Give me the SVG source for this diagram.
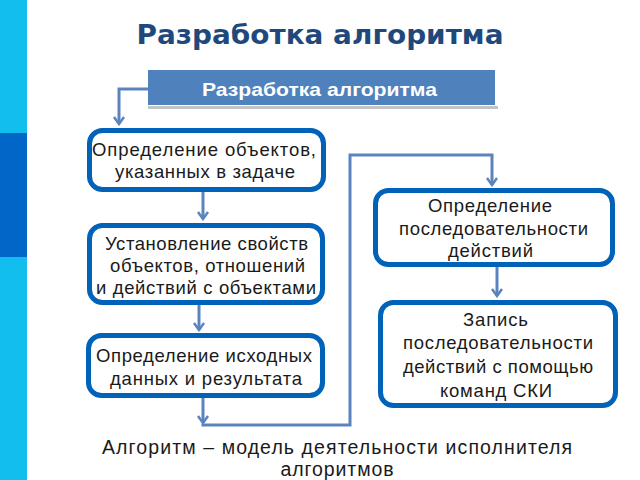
<svg xmlns="http://www.w3.org/2000/svg" width="640" height="480" viewBox="0 0 640 480">
<defs>
<style>
.box{fill:#ffffff;stroke:#0062B8;stroke-width:5}
.t{font-family:"Liberation Sans",Arial,sans-serif;font-size:18.5px;fill:#1a1a1a}
.c{fill:none;stroke:#5B84BF;stroke-width:3}
.bt{font-family:"Liberation Sans",Arial,sans-serif;font-size:19.5px;fill:#1a1a1a}
</style>
<marker id="ah" viewBox="-9 -7 11 14" markerWidth="11" markerHeight="14" refX="0" refY="0" orient="auto" markerUnits="userSpaceOnUse">
<path d="M-7,-5 L0,0 L-7,5" fill="none" stroke="#5B84BF" stroke-width="2.5"/>
</marker>
</defs>
<rect x="0" y="0" width="640" height="480" fill="#ffffff"/>
<g id="sidebar">
<rect x="0" y="0" width="27" height="480" fill="#12BEEE"/>
<rect x="0" y="133" width="27" height="124" fill="#0066C8"/>
</g>
<g id="title">
<text x="320" y="44" text-anchor="middle" textLength="367" lengthAdjust="spacingAndGlyphs" font-family="'DejaVu Sans',Verdana,sans-serif" font-weight="bold" font-size="26" fill="#1F497D">Разработка алгоритма</text>
</g>
<g id="header">
<rect x="148" y="106" width="350" height="3" fill="#C4C4C4"/>
<rect x="148" y="70" width="347" height="35" fill="#4F81BD"/>
<text x="319.5" y="96" text-anchor="middle" textLength="235" lengthAdjust="spacingAndGlyphs" font-family="'Liberation Sans',Arial,sans-serif" font-weight="bold" font-size="19" fill="#ffffff">Разработка алгоритма</text>
</g>
<g id="connectors">
<path class="c" d="M148,89 H119 V124" marker-end="url(#ah)"/>
<path class="c" d="M203,192 V219" marker-end="url(#ah)"/>
<path class="c" d="M199,305 V330" marker-end="url(#ah)"/>
<path class="c" d="M203,398 V423" marker-end="url(#ah)"/>
<path class="c" d="M201.5,425 H350 V155 H492 V185" marker-end="url(#ah)"/>
<path class="c" d="M497,267 V296" marker-end="url(#ah)"/>
</g>
<g id="n1">
<rect class="box" x="89.5" y="130.5" width="234" height="59" rx="13"/>
<text class="t" x="204" y="156" text-anchor="middle" textLength="224">Определение объектов,</text>
<text class="t" x="205" y="178" text-anchor="middle" textLength="180">указанных в задаче</text>
</g>
<g id="n2">
<rect class="box" x="89.5" y="225.5" width="233" height="77" rx="13"/>
<text class="t" x="206.5" y="250" text-anchor="middle" textLength="203">Установление свойств</text>
<text class="t" x="207.5" y="272" text-anchor="middle" textLength="195">объектов, отношений</text>
<text class="t" x="206" y="294" text-anchor="middle" textLength="220">и действий с объектами</text>
</g>
<g id="n3">
<rect class="box" x="88.5" y="335.5" width="234" height="60" rx="13"/>
<text class="t" x="204" y="362" text-anchor="middle" textLength="216">Определение исходных</text>
<text class="t" x="206" y="385" text-anchor="middle" textLength="192">данных и результата</text>
</g>
<g id="n4">
<rect class="box" x="375.5" y="190.5" width="237" height="74" rx="13"/>
<text class="t" x="490" y="212" text-anchor="middle" textLength="124">Определение</text>
<text class="t" x="493.5" y="235" text-anchor="middle" textLength="189">последовательности</text>
<text class="t" x="490.5" y="257" text-anchor="middle" textLength="85">действий</text>
</g>
<g id="n5">
<rect class="box" x="380.5" y="302.5" width="235" height="103" rx="13"/>
<text class="t" x="495.5" y="326" text-anchor="middle" textLength="65">Запись</text>
<text class="t" x="498" y="349" text-anchor="middle" textLength="190">последовательности</text>
<text class="t" x="498" y="373" text-anchor="middle" textLength="190">действий с помощью</text>
<text class="t" x="496" y="397" text-anchor="middle" textLength="112">команд СКИ</text>
</g>
<g id="caption">
<text class="bt" x="337" y="454" text-anchor="middle" textLength="470">Алгоритм – модель деятельности исполнителя</text>
<text class="bt" x="337" y="476" text-anchor="middle" textLength="113">алгоритмов</text>
</g>
</svg>
